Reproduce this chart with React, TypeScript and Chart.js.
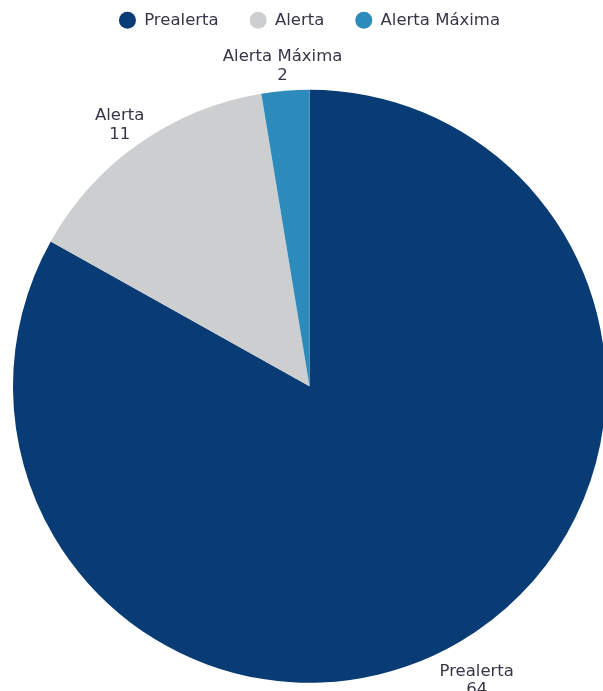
import React, { useEffect, useRef } from "react";
import { Chart, registerables } from "chart.js";

Chart.register(...registerables);

const categories = ["Prealerta", "Alerta", "Alerta Máxima"];
const values = [64, 11, 2];
const colors = ["#093b74", "#cdcecf", "#2d8bbb"];

const FONT = "'DejaVu Sans', sans-serif";
const FONT_SIZE = 16.5;
const TEXT_COLOR = "#363646";
const CANVAS_W = 619;
const CANVAS_H = 780;
const CANVAS_TOP = -19;

const outsideLabels = {
  id: "outsideLabels",
  afterDatasetsDraw(chart: any) {
    const ctx = chart.ctx;
    const meta = chart.getDatasetMeta(0);
    ctx.save();
    ctx.font = `${FONT_SIZE}px ${FONT}`;
    ctx.fillStyle = TEXT_COLOR;
    ctx.textAlign = "center";
    ctx.textBaseline = "middle";
    meta.data.forEach((arc: any, i: number) => {
      const { x, y, startAngle, endAngle, outerRadius } = arc.getProps(
        ["x", "y", "startAngle", "endAngle", "outerRadius"],
        true
      );
      const mid = (startAngle + endAngle) / 2;
      const d = outerRadius + 34;
      const px = x + Math.cos(mid) * d;
      const py = y + Math.sin(mid) * d;
      ctx.fillText(categories[i], px, py);
      ctx.fillText(String(values[i]), px, py + 18.5);
    });
    ctx.restore();
  },
};

export default function App() {
  const ref = useRef<HTMLCanvasElement | null>(null);
  useEffect(() => {
    if (!ref.current) return;
    const chart = new Chart(ref.current, {
      type: "pie",
      data: {
        labels: categories,
        datasets: [
          {
            data: values,
            backgroundColor: colors,
            borderWidth: 0,
          },
        ],
      },
      options: {
        responsive: false,
        animation: false,
        devicePixelRatio: 1,
        layout: { padding: { left: 13, right: 13, top: 0, bottom: 27 } },
        plugins: {
          legend: {
            position: "top",
            labels: {
              usePointStyle: true,
              pointStyle: "circle",
              boxWidth: 17,
              boxHeight: 12,
              pointStyleWidth: 17,
              padding: 31,
              color: TEXT_COLOR,
              font: { family: FONT, size: FONT_SIZE },
            },
          },
          tooltip: { enabled: false },
        },
      },
      plugins: [outsideLabels],
    });
    return () => chart.destroy();
  }, []);
  return (
    <div
      style={{
        position: "fixed",
        left: 0,
        top: 0,
        width: 603,
        height: 691,
        overflow: "hidden",
        background: "#ffffff",
      }}
    >
      <canvas
        ref={ref}
        width={CANVAS_W}
        height={CANVAS_H}
        style={{
          position: "absolute",
          left: 0,
          top: CANVAS_TOP,
          width: CANVAS_W,
          height: CANVAS_H,
        }}
      />
    </div>
  );
}
